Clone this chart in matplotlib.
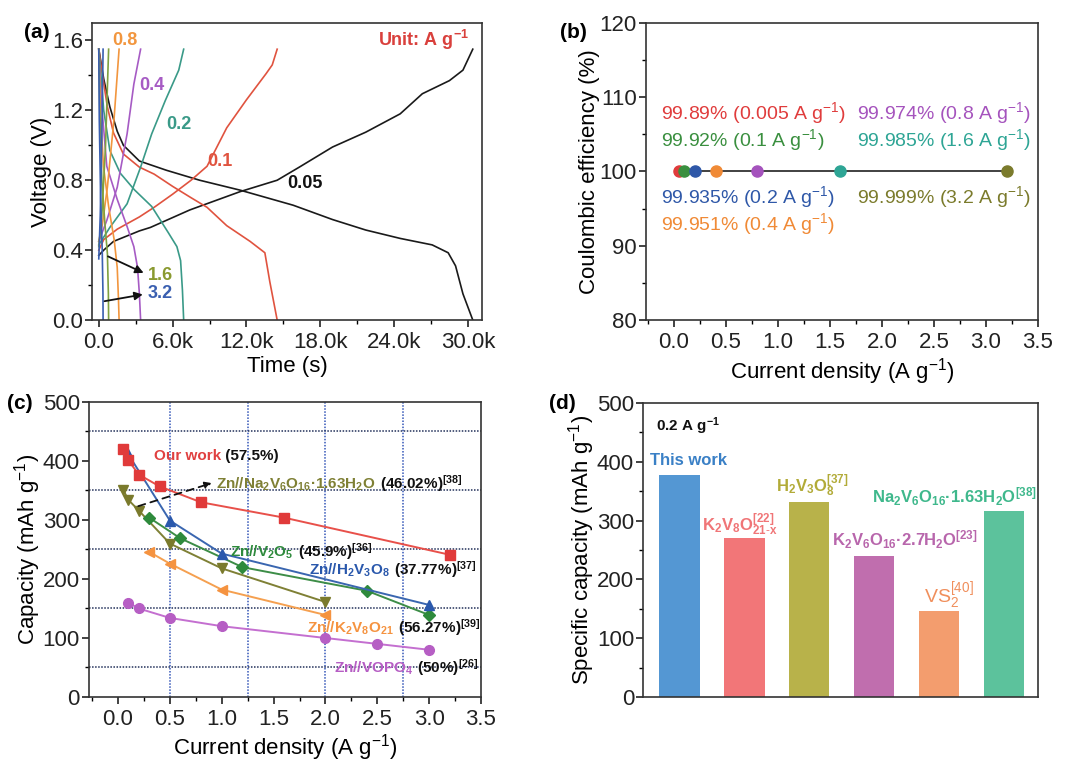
import matplotlib
matplotlib.use("Agg")
import matplotlib.pyplot as plt
from matplotlib.ticker import MultipleLocator, FuncFormatter

plt.rcParams['font.family'] = ['Liberation Sans', 'DejaVu Sans']
plt.rcParams['mathtext.default'] = 'regular'
plt.rcParams['mathtext.fontset'] = 'custom'
plt.rcParams['mathtext.rm'] = 'Liberation Sans'
plt.rcParams['mathtext.it'] = 'Liberation Sans:italic'
plt.rcParams['mathtext.bf'] = 'Liberation Sans:bold'
plt.rcParams['axes.linewidth'] = 1.2
plt.rcParams['axes.edgecolor'] = '#333333'

# ---------------- (a) GCD curves: time (s), voltage (V) ----------------
t_dis_005 = [0, 400, 900, 1500, 2000, 3300, 5500, 8200, 11500, 15800, 19000, 21700, 24500, 27100, 28400, 29000, 29600, 30400]
v_dis_005 = [1.55, 1.38, 1.22, 1.08, 1.00, 0.91, 0.857, 0.80, 0.743, 0.657, 0.575, 0.515, 0.467, 0.43, 0.385, 0.31, 0.15, 0.0]
t_chg_005 = [0, 400, 1200, 3300, 4200, 7400, 11500, 14500, 16300, 19000, 21700, 24500, 26300, 28500, 29600, 30400]
v_chg_005 = [0.37, 0.40, 0.45, 0.51, 0.53, 0.63, 0.735, 0.80, 0.875, 0.99, 1.075, 1.18, 1.295, 1.37, 1.43, 1.55]

t_dis_01 = [0, 300, 700, 1200, 2000, 3300, 4500, 6000, 7500, 8800, 10400, 12300, 13500, 13900, 14500]
v_dis_01 = [1.55, 1.40, 1.22, 1.07, 0.95, 0.875, 0.835, 0.765, 0.70, 0.645, 0.54, 0.45, 0.385, 0.22, 0.0]
t_chg_01 = [0, 400, 1500, 3300, 4500, 6000, 7500, 8800, 10400, 12000, 13600, 14100, 14500]
v_chg_01 = [0.40, 0.46, 0.52, 0.59, 0.645, 0.72, 0.80, 0.88, 1.10, 1.26, 1.41, 1.46, 1.55]

t_dis_02 = [0, 200, 400, 900, 1750, 2900, 4300, 5650, 6350, 6650, 6800, 6900]
v_dis_02 = [1.55, 1.38, 1.20, 0.97, 0.84, 0.745, 0.65, 0.50, 0.42, 0.34, 0.17, 0.0]
t_chg_02 = [0, 900, 2300, 3400, 4300, 5400, 6500, 6900]
v_chg_02 = [0.43, 0.53, 0.665, 0.875, 1.065, 1.255, 1.43, 1.55]

t_dis_04 = [0, 100, 250, 650, 1500, 2300, 2850, 3150, 3300, 3400]
v_dis_04 = [1.55, 1.38, 1.22, 0.88, 0.69, 0.535, 0.42, 0.30, 0.15, 0.0]
t_chg_04 = [0, 650, 1500, 2300, 2850, 3400]
v_chg_04 = [0.45, 0.57, 0.76, 1.065, 1.35, 1.55]

t_dis_08 = [0, 120, 380, 800, 1250, 1500, 1600, 1650]
v_dis_08 = [1.55, 1.22, 0.88, 0.65, 0.46, 0.30, 0.12, 0.0]
t_chg_08 = [0, 300, 700, 1250, 1650]
v_chg_08 = [0.45, 0.55, 0.76, 1.16, 1.55]

t_dis_16 = [0, 80, 250, 500, 700, 780, 800]
v_dis_16 = [1.55, 1.20, 0.80, 0.55, 0.38, 0.15, 0.0]
t_chg_16 = [0, 250, 550, 800]
v_chg_16 = [0.42, 0.60, 1.00, 1.55]

t_dis_32 = [0, 40, 150, 280, 340, 350]
v_dis_32 = [1.55, 1.15, 0.70, 0.40, 0.15, 0.0]
t_chg_32 = [0, 120, 250, 350]
v_chg_32 = [0.35, 0.60, 1.05, 1.55]

# ---------------- (b) Coulombic efficiency ----------------
ce_current = [0.05, 0.1, 0.2, 0.4, 0.8, 1.6, 3.2]
ce_value = [99.89, 99.92, 99.935, 99.951, 99.974, 99.985, 99.999]
ce_colors = ['#e03c3c', '#3a8f3f', '#2f58a8', '#f08a36', '#a553bd', '#2ea595', '#7b7b2c']
ce_labels = [r'99.89% (0.005 A g$^{-1}$)', r'99.92% (0.1 A g$^{-1}$)', r'99.935% (0.2 A g$^{-1}$)',
             r'99.951% (0.4 A g$^{-1}$)', r'99.974% (0.8 A g$^{-1}$)', r'99.985% (1.6 A g$^{-1}$)',
             r'99.999% (3.2 A g$^{-1}$)']

# ---------------- (c) rate comparison ----------------
our_x = [0.05, 0.1, 0.2, 0.4, 0.8, 1.6, 3.2]
our_y = [420, 401, 377, 357, 330, 304, 241]
h2v3o8_x = [0.1, 0.5, 1.0, 3.0]
h2v3o8_y = [411, 299, 243, 156]
v2o5_x = [0.3, 0.6, 1.2, 2.4, 3.0]
v2o5_y = [304, 269, 220, 180, 139]
nvo_x = [0.05, 0.1, 0.2, 0.5, 1.0, 2.0]
nvo_y = [351, 334, 316, 260, 218, 161]
kvo_x = [0.3, 0.5, 1.0, 2.0]
kvo_y = [246, 226, 182, 139]
vopo4_x = [0.1, 0.2, 0.5, 1.0, 2.0, 2.5, 3.0]
vopo4_y = [160, 150, 134, 120, 100, 90, 80]

# ---------------- (d) capacity at 0.2 A/g ----------------
bar_names = ['This work', 'K2V8O21-x', 'H2V3O8', 'K2V6O16.2.7H2O', 'VS2', 'Na2V6O16.1.63H2O']
bar_values = [378, 271, 331, 240, 146, 317]
bar_colors = ['#5497d3', '#f27678', '#b8b24a', '#c06eae', '#f39d6e', '#5cc29c']

fig = plt.figure(figsize=(10.8, 7.76), dpi=100)
ax_a = fig.add_axes([0.0852, 0.5876, 0.3611, 0.3828])
ax_b = fig.add_axes([0.598, 0.5876, 0.3630, 0.3828])
ax_c = fig.add_axes([0.0824, 0.1018, 0.3630, 0.3802])
ax_d = fig.add_axes([0.5954, 0.1018, 0.3657, 0.3789])

for ax in (ax_a, ax_b, ax_c, ax_d):
    ax.tick_params(which='major', direction='out', length=5, width=1.2, labelsize=16, colors='#222222')
    ax.tick_params(which='minor', direction='out', length=3, width=1.0)
    ax.tick_params(axis='y', which='major', pad=1.5)

# ---- (a)
rate_sets = [
    (t_dis_005, v_dis_005, t_chg_005, v_chg_005, '#1a1a1a'),
    (t_dis_01, v_dis_01, t_chg_01, v_chg_01, '#e0533f'),
    (t_dis_02, v_dis_02, t_chg_02, v_chg_02, '#3a9a88'),
    (t_dis_04, v_dis_04, t_chg_04, v_chg_04, '#a65bc4'),
    (t_dis_08, v_dis_08, t_chg_08, v_chg_08, '#f2963e'),
    (t_dis_16, v_dis_16, t_chg_16, v_chg_16, '#7fa040'),
    (t_dis_32, v_dis_32, t_chg_32, v_chg_32, '#3a5fb0'),
]
for td, vd, tc, vc, col in rate_sets:
    ax_a.plot(td, vd, color=col, lw=1.2)
    ax_a.plot(tc, vc, color=col, lw=1.2)

ax_a.set_xlim(-550, 31150)
ax_a.set_ylim(0, 1.7)
ax_a.xaxis.set_major_locator(MultipleLocator(6000))
ax_a.xaxis.set_minor_locator(MultipleLocator(3000))
ax_a.yaxis.set_major_locator(MultipleLocator(0.4))
ax_a.yaxis.set_minor_locator(MultipleLocator(0.2))
ax_a.xaxis.set_major_formatter(FuncFormatter(lambda v, p: '0.0' if v == 0 else f'{v/1000:.1f}k'))
ax_a.yaxis.set_major_formatter(FuncFormatter(lambda v, p: f'{v:.1f}'))
ax_a.set_xlabel('Time (s)', fontsize=16, labelpad=2)
ax_a.set_ylabel('Voltage (V)', fontsize=16, labelpad=0)

lab_kw = dict(fontsize=13, fontweight='bold', va='center')
ax_a.text(1100, 1.6, '0.8', color='#f2963e', **lab_kw)
ax_a.text(3300, 1.34, '0.4', color='#a65bc4', **lab_kw)
ax_a.text(5450, 1.12, '0.2', color='#3a9a88', **lab_kw)
ax_a.text(8800, 0.905, '0.1', color='#e0533f', **lab_kw)
ax_a.text(15300, 0.78, '0.05', color='#111111', **lab_kw)
ax_a.text(30100, 1.6, r'Unit: A g$^{-1}$', color='#d9403c', ha='right', fontsize=13,
          fontweight='bold', va='center')
ax_a.annotate('', xy=(3850, 0.263), xytext=(540, 0.371),
              arrowprops=dict(arrowstyle='-|>', color='#111111', lw=1.3, mutation_scale=12))
ax_a.annotate('', xy=(3800, 0.149), xytext=(243, 0.105),
              arrowprops=dict(arrowstyle='-|>', color='#111111', lw=1.3, mutation_scale=12))
ax_a.text(4000, 0.257, '1.6', color='#8a9a30', **lab_kw)
ax_a.text(4000, 0.152, '3.2', color='#3a5fb0', **lab_kw)

# ---- (b)
ax_b.plot(ce_current, [100] * len(ce_current), color='#333333', lw=1.3, zorder=1)
for x, c in zip(ce_current, ce_colors):
    ax_b.plot(x, 100, 'o', color=c, ms=8, mec=c, zorder=2)
b_pos = [(-0.12, 107.9), (-0.12, 104.3), (-0.12, 96.6), (-0.12, 92.9),
         (1.76, 107.9), (1.76, 104.3), (1.76, 96.6)]
for (x, y), lab, c in zip(b_pos, ce_labels, ce_colors):
    ax_b.text(x, y, lab, color=c, fontsize=14, va='center', ha='left')
ax_b.set_xlim(-0.27, 3.5)
ax_b.set_ylim(80, 120)
ax_b.xaxis.set_major_locator(MultipleLocator(0.5))
ax_b.xaxis.set_minor_locator(MultipleLocator(0.25))
ax_b.yaxis.set_major_locator(MultipleLocator(10))
ax_b.yaxis.set_minor_locator(MultipleLocator(5))
ax_b.set_xlabel(r'Current density (A g$^{-1}$)', fontsize=16, labelpad=2)
ax_b.set_ylabel('Coulombic efficiency (%)', fontsize=16, labelpad=0)

# ---- (c)
for xv in [0.5, 1.25, 2.0, 2.75]:
    ax_c.axvline(xv, color='#3456b8', ls=(0, (1, 1)), lw=1.1, zorder=0)
for yv in [50, 150, 250, 350, 450]:
    ax_c.axhline(yv, color='#22305a', ls=(0, (1, 1)), lw=1.1, zorder=0)

ax_c.plot(vopo4_x, vopo4_y, '-o', color='#c46fd0', mfc='#b65ec4', mec='#b65ec4', ms=7, lw=1.4)
ax_c.plot(kvo_x, kvo_y, '-<', color='#f5a050', mfc='#f59340', mec='#f59340', ms=7.5, lw=1.4)
ax_c.plot(nvo_x, nvo_y, '-v', color='#7f8035', mfc='#7a7a2c', mec='#7a7a2c', ms=7.5, lw=1.4)
ax_c.plot(v2o5_x, v2o5_y, '-D', color='#3d8d47', mfc='#2e8a3c', mec='#2e8a3c', ms=6, lw=1.4)
ax_c.plot(h2v3o8_x, h2v3o8_y, '-^', color='#3a66b0', mfc='#2a58ac', mec='#2a58ac', ms=7.5, lw=1.4)
ax_c.plot(our_x, our_y, '-s', color='#e8504a', mfc='#e03a3a', mec='#e03a3a', ms=6.5, lw=1.4)

ax_c.annotate('', xy=(0.93, 364), xytext=(0.17, 322),
              arrowprops=dict(arrowstyle='-|>', ls=(0, (4, 3)), color='#111111', lw=1.3,
                              mutation_scale=10))


def two_part(ax, x, y, first, col, second, size=11):
    t1 = ax.text(x, y, first, color=col, fontsize=size, fontweight='bold', va='baseline')
    ax.annotate(second, xy=(1, y), xycoords=(t1, 'data'), color='#111111', fontsize=size,
                fontweight='bold', va='baseline', ha='left')


two_part(ax_c, 0.344, 402, 'Our work', '#e04040', ' (57.5%)')
two_part(ax_c, 0.947, 353, r'Zn//Na$_2$V$_6$O$_{16}$·1.63H$_2$O', '#7f8035', r' (46.02%)$^{[38]}$')
two_part(ax_c, 1.082, 238, r'Zn//V$_2$O$_5$', '#2e8a3c', r' (45.9%)$^{[36]}$')
two_part(ax_c, 1.846, 207, r'Zn//H$_2$V$_3$O$_8$', '#2a58ac', r' (37.77%)$^{[37]}$')
two_part(ax_c, 1.82, 109, r'Zn//K$_2$V$_8$O$_{21}$', '#f59340', r' (56.27%)$^{[39]}$')
two_part(ax_c, 2.078, 41, r'Zn//VOPO$_4$', '#b65ec4', r' (50%)$^{[26]}$')

ax_c.set_xlim(-0.28, 3.5)
ax_c.set_ylim(0, 500)
ax_c.xaxis.set_major_locator(MultipleLocator(0.5))
ax_c.xaxis.set_minor_locator(MultipleLocator(0.25))
ax_c.yaxis.set_major_locator(MultipleLocator(100))
ax_c.yaxis.set_minor_locator(MultipleLocator(50))
ax_c.set_xlabel(r'Current density (A g$^{-1}$)', fontsize=16, labelpad=2)
ax_c.set_ylabel(r'Capacity (mAh g$^{-1}$)', fontsize=16, labelpad=0)

# ---- (d)
xpos = list(range(len(bar_values)))
ax_d.bar(xpos, bar_values, width=0.62, color=bar_colors)
ax_d.set_xlim(-0.56, 5.52)
ax_d.set_ylim(0, 500)
ax_d.set_xticks([])
ax_d.yaxis.set_major_locator(MultipleLocator(100))
ax_d.yaxis.set_minor_locator(MultipleLocator(50))
ax_d.set_ylabel(r'Specific capacity (mAh g$^{-1}$)', fontsize=16, labelpad=0)

d_kw = dict(fontsize=12, fontweight='bold', ha='center', va='baseline')
ax_d.text(-0.36, 453, r'0.2 A g$^{-1}$', color='#111111', fontsize=11, fontweight='bold',
          ha='left', va='baseline')
ax_d.text(0.14, 394, 'This work', color='#3a80c6', **d_kw)
ax_d.text(0.93, 283, r'K$_2$V$_8$O$_{21\text{-}x}^{[22]}$', color='#f07577', **d_kw)
ax_d.text(2.05, 349, r'H$_2$V$_3$O$_8^{[37]}$', color='#b2ab38', **d_kw)
ax_d.text(3.47, 257, r'K$_2$V$_6$O$_{16}$·2.7H$_2$O$^{[23]}$', color='#b866ac', **d_kw)
ax_d.text(4.15, 160, r'VS$_2^{[40]}$', color='#f08f5c', fontsize=14, ha='center', va='baseline')
ax_d.text(4.23, 331, r'Na$_2$V$_6$O$_{16}$·1.63H$_2$O$^{[38]}$', color='#3fb88c', **d_kw)

# panel letters
for px, py, s in [(37, 32, '(a)'), (573, 32, '(b)'), (20, 403, '(c)'), (562, 403, '(d)')]:
    fig.text(px / 1080, 1 - py / 776, s, fontsize=15, fontweight='bold', ha='center', va='center')

fig.savefig('out.png', dpi=100)
